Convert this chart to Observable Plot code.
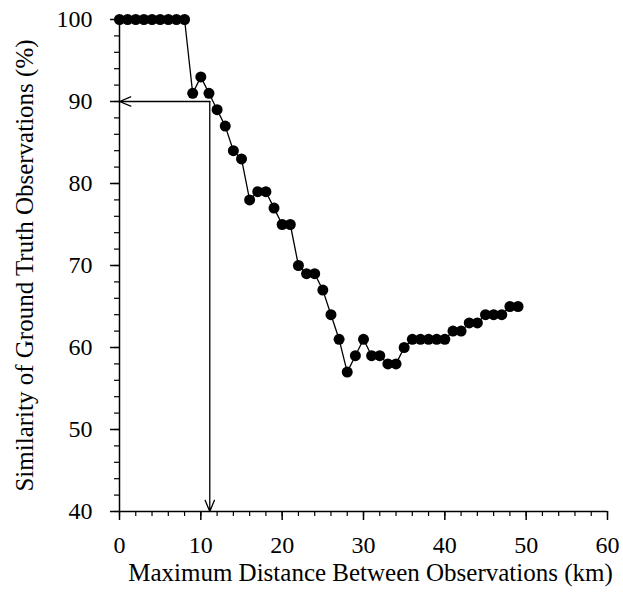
<!DOCTYPE html>
<html>
<head>
<meta charset="utf-8">
<script src="https://cdn.jsdelivr.net/npm/d3@7"></script>
<script src="https://cdn.jsdelivr.net/npm/@observablehq/plot@0.6"></script>
<style>
  body { margin: 0; background: #fff; }
  #chart svg { display: block; }
</style>
</head>
<body>
<div id="chart"></div>
<script>
const distance = [0,1,2,3,4,5,6,7,8,9,10,11,12,13,14,15,16,17,18,19,20,21,22,23,24,25,26,27,28,29,30,31,32,33,34,35,36,37,38,39,40,41,42,43,44,45,46,47,48,49];
const similarity = [100,100,100,100,100,100,100,100,100,91,93,91,89,87,84,83,78,79,79,77,75,75,70,69,69,67,64,61,57,59,61,59,59,58,58,60,61,61,61,61,61,62,62,63,63,64,64,64,65,65];
const xMajorTicks = [0,10,20,30,40,50,60];
const yMajorTicks = [40,50,60,70,80,90,100];
const threshold = 90;
const cutoff = 11.1;
const xLabel = "Maximum Distance Between Observations (km)";
const yLabel = "Similarity of Ground Truth Observations (%)";

const data = distance.map((d, i) => ({x: d, y: similarity[i]}));
const xMinor = d3.range(0, 61, 2);
const yMinor = d3.range(40, 101, 2);
const arrows = [
  {x1: cutoff, y1: threshold, x2: 0, y2: threshold},
  {x1: cutoff, y1: threshold, x2: cutoff, y2: 40}
];
const font = "Liberation Serif, Times New Roman, serif";
const fs = 24;
const lfs = 25;

const chart = Plot.plot({
  width: 623,
  height: 602,
  marginLeft: 119,
  marginRight: 16,
  marginTop: 19,
  marginBottom: 91,
  style: {fontFamily: font, fontSize: fs + "px", color: "#000", background: "#fff"},
  x: {domain: [0, 60]},
  y: {domain: [40, 100]},
  marks: [
    Plot.axisX(xMinor, {tickSize: 5, text: null, label: null, strokeWidth: 1.2}),
    Plot.axisX(xMajorTicks, {tickSize: 9, tickPadding: 15, label: null, fontSize: fs, fontFamily: font, strokeWidth: 1.5}),
    Plot.axisY(yMinor, {tickSize: 5, text: null, label: null, strokeWidth: 1.2}),
    Plot.axisY(yMajorTicks, {tickSize: 9, tickPadding: 18, label: null, fontSize: fs, fontFamily: font, strokeWidth: 1.5}),
    Plot.ruleX([0], {strokeWidth: 1.5}),
    Plot.ruleY([40], {strokeWidth: 1.5}),
    Plot.arrow(arrows, {x1: "x1", y1: "y1", x2: "x2", y2: "y2", headLength: 14, headAngle: 45, strokeWidth: 1.3, stroke: "#000"}),
    Plot.line(data, {x: "x", y: "y", stroke: "#000", strokeWidth: 1.3}),
    Plot.dot(data, {x: "x", y: "y", r: 5.5, fill: "#000", stroke: "none"}),
    Plot.text([xLabel], {frameAnchor: "bottom", lineAnchor: "middle", textAnchor: "middle", dy: 61, dx: 7, fontSize: lfs, fontFamily: font, fill: "#000"}),
    Plot.text([yLabel], {frameAnchor: "left", lineAnchor: "middle", textAnchor: "middle", rotate: -90, dx: -95, fontSize: lfs, fontFamily: font, fill: "#000"})
  ]
});
document.getElementById("chart").appendChild(chart);
</script>
</body>
</html>
